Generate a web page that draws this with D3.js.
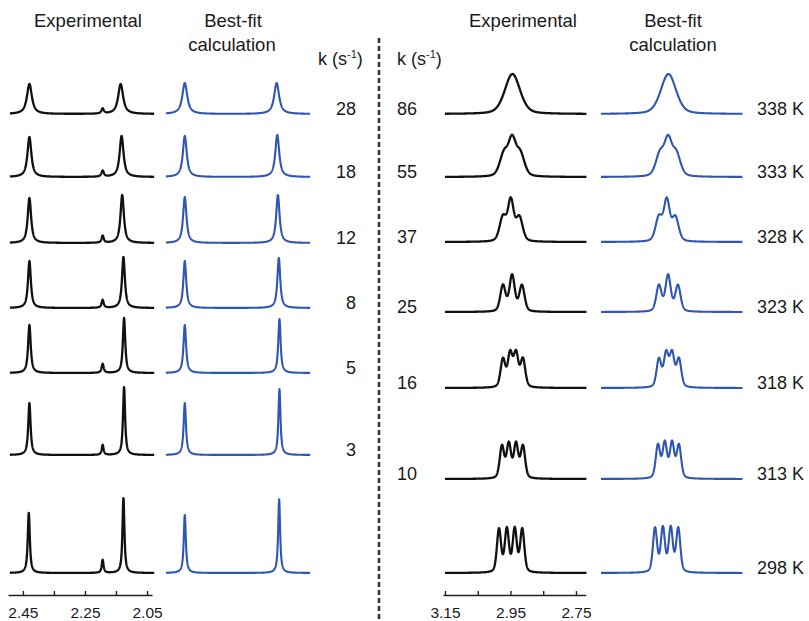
<!DOCTYPE html>
<html><head><meta charset="utf-8">
<script src="https://cdn.jsdelivr.net/npm/d3@7"></script>
<style>
html,body{margin:0;padding:0;background:#fff;}
svg{display:block;font-family:"Liberation Sans",Arial,sans-serif;}
</style></head>
<body>
<svg id="chart" width="809" height="621"></svg>
<script>
// ---------------- DATA ----------------
// left panel: exchange rate constants (s^-1)
const leftK = ["28", "18", "12", "8", "5", "3", ""];
// right panel: exchange rate constants and temperatures
const rightK = ["86", "55", "37", "25", "16", "10", ""];
const temps = ["338 K", "333 K", "328 K", "323 K", "318 K", "313 K", "298 K"];

// peak lists: [chemical shift (ppm), peak height (a.u.), line width FWHM (ppm)]
const leftExpPeaks = [
  [[2.429, 30, 0.019], [2.193, 5, 0.009], [2.135, 30, 0.019]],
  [[2.429, 40, 0.015], [2.193, 6, 0.009], [2.132, 41, 0.015]],
  [[2.429, 45, 0.013], [2.193, 7, 0.008], [2.130, 48, 0.013]],
  [[2.429, 47, 0.011], [2.193, 8, 0.008], [2.126, 51, 0.011]],
  [[2.429, 48, 0.010], [2.193, 9, 0.008], [2.124, 55, 0.009]],
  [[2.429, 52, 0.009], [2.193, 10, 0.007], [2.124, 68, 0.008]],
  [[2.431, 60, 0.008], [2.193, 13, 0.007], [2.126, 75, 0.0075]]
];
const leftFitPeaks = [
  [[2.431, 31, 0.019], [2.135, 31, 0.019]],
  [[2.431, 41, 0.015], [2.133, 42, 0.015]],
  [[2.431, 46, 0.013], [2.131, 48, 0.013]],
  [[2.431, 47, 0.011], [2.128, 50, 0.011]],
  [[2.431, 48, 0.010], [2.126, 54, 0.009]],
  [[2.431, 52, 0.009], [2.126, 66, 0.008]],
  [[2.431, 58, 0.008], [2.127, 74, 0.0075]]
];
const rightExpPeaks = [
  [[2.944, 40, 0.055]],
  [[2.970, 22, 0.030], [2.945, 34, 0.027], [2.920, 22, 0.030]],
  [[2.973, 24, 0.024], [2.949, 40, 0.021], [2.923, 24, 0.024]],
  [[2.973, 26, 0.019], [2.945, 36, 0.019], [2.915, 26, 0.019]],
  [[2.973, 28, 0.017], [2.951, 33, 0.017], [2.933, 33, 0.017], [2.912, 28, 0.017]],
  [[2.976, 32, 0.016], [2.955, 34, 0.016], [2.933, 34, 0.016], [2.912, 32, 0.016]],
  [[2.985, 43, 0.015], [2.961, 43, 0.015], [2.937, 43, 0.015], [2.914, 43, 0.015]]
];
const rightFitPeaks = [
  [[2.944, 40, 0.055]],
  [[2.970, 22, 0.030], [2.945, 34, 0.027], [2.920, 22, 0.030]],
  [[2.973, 24, 0.024], [2.949, 40, 0.021], [2.923, 24, 0.024]],
  [[2.973, 26, 0.019], [2.945, 36, 0.019], [2.915, 26, 0.019]],
  [[2.973, 28, 0.017], [2.951, 33, 0.017], [2.933, 33, 0.017], [2.912, 28, 0.017]],
  [[2.976, 33, 0.016], [2.955, 35, 0.016], [2.933, 35, 0.016], [2.912, 33, 0.016]],
  [[2.985, 44, 0.015], [2.961, 44, 0.015], [2.937, 44, 0.015], [2.914, 44, 0.015]]
];
const leftTicks = [2.45, 2.35, 2.25, 2.15, 2.05];
const leftTickLabels = ["2.45", "", "2.25", "", "2.05"];
const rightTicks = [3.15, 3.05, 2.95, 2.85, 2.75];
const rightTickLabels = ["3.15", "", "2.95", "", "2.75"];

// ---------------- LAYOUT ----------------
const svg = d3.select("#chart");
const leftRowY = [114, 177, 243, 308, 373, 455, 573];
const rightRowY = [114, 177, 242, 312, 388, 479, 573];
const fitOffset = 156;
const black = "#111", blue = "#2f56b3";

const leftX = d3.scaleLinear().domain([2.498, 2.034]).range([8, 152]);
const rightX = d3.scaleLinear().domain([3.156, 2.720]).range([443, 585.8]);
const leftSpan = [2.492, 2.027];
const rightSpan = [3.150, 2.718];

function lineshape(peaks, ppm, eta) {
  let s = 0;
  for (const [p, h, w] of peaks) {
    const u = (ppm - p) / (w / 2);
    s += h * (eta / (1 + u * u) + (1 - eta) * Math.exp(-Math.LN2 * u * u));
  }
  return s;
}

function drawSpectrum(peaks, xs, span, dx, base, eta, color, sw) {
  const y = d3.scaleLinear().domain([0, 100]).range([base, base - 100]);
  const pts = [];
  const n = 900;
  for (let i = 0; i <= n; i++) {
    const ppm = span[0] + (span[1] - span[0]) * i / n;
    pts.push([ppm, lineshape(peaks, ppm, eta)]);
  }
  const line = d3.line().x(d => xs(d[0]) + dx).y(d => y(d[1])).curve(d3.curveLinear);
  svg.append("path").attr("d", line(pts)).attr("fill", "none")
    .attr("stroke", color).attr("stroke-width", sw).attr("stroke-linejoin", "round");
}

leftExpPeaks.forEach((pk, i) => drawSpectrum(pk, leftX, leftSpan, 0, leftRowY[i], 0.9, black, 2.3));
leftFitPeaks.forEach((pk, i) => drawSpectrum(pk, leftX, leftSpan, fitOffset, leftRowY[i], 0.9, blue, 2.1));
rightExpPeaks.forEach((pk, i) => drawSpectrum(pk, rightX, rightSpan, 0, rightRowY[i], 0.35, black, 2.3));
rightFitPeaks.forEach((pk, i) => drawSpectrum(pk, rightX, rightSpan, fitOffset, rightRowY[i], 0.35, blue, 2.1));

// axes
function drawAxis(xs, ticks, labels) {
  const ax = d3.axisBottom(xs).tickValues(ticks).tickSizeInner(-4).tickSizeOuter(0)
    .tickFormat((d, i) => labels[i]);
  const g = svg.append("g").attr("transform", "translate(0,595)").call(ax);
  g.select(".domain").attr("stroke", "#222").attr("stroke-width", 1.6);
  g.selectAll(".tick line").attr("stroke", "#222").attr("stroke-width", 1.4).attr("y2", -4).attr("y1", 1);
  g.selectAll(".tick text").attr("font-size", 15.5).attr("fill", "#1a1a1a")
    .attr("font-family", '"Liberation Sans",Arial,sans-serif').attr("y", 12).attr("dy", "0.71em");
}
drawAxis(leftX, leftTicks, leftTickLabels);
drawAxis(rightX, rightTicks, rightTickLabels);

// dashed separator
svg.append("line").attr("x1", 379).attr("x2", 379).attr("y1", 38).attr("y2", 621)
  .attr("stroke", "#333").attr("stroke-width", 2.6).attr("stroke-dasharray", "5,3");

// titles
const tf = 18.5;
function text(x, y, s, anchor, size) {
  return svg.append("text").attr("x", x).attr("y", y).attr("text-anchor", anchor || "middle")
    .attr("font-size", size || tf).attr("fill", "#1a1a1a").text(s);
}
text(88, 27, "Experimental");
text(233, 27, "Best-fit");
text(232, 51, "calculation");
text(523, 27, "Experimental");
text(673, 27, "Best-fit");
text(673, 51, "calculation");

function kHeader(x) {
  const t = svg.append("text").attr("x", x).attr("y", 65).attr("font-size", 18).attr("fill", "#1a1a1a");
  t.append("tspan").text("k (s");
  t.append("tspan").attr("font-size", 11).attr("dy", -7).text("-1");
  t.append("tspan").attr("dy", 7).text(")");
}
kHeader(318);
kHeader(397);

leftK.forEach((k, i) => { if (k) text(356, leftRowY[i] + 1, k, "end", 18); });
rightK.forEach((k, i) => { if (k) text(397, rightRowY[i] + 1, k, "start", 18); });
temps.forEach((t, i) => text(757, rightRowY[i] + 1, t, "start", 18));
</script>
</body></html>
